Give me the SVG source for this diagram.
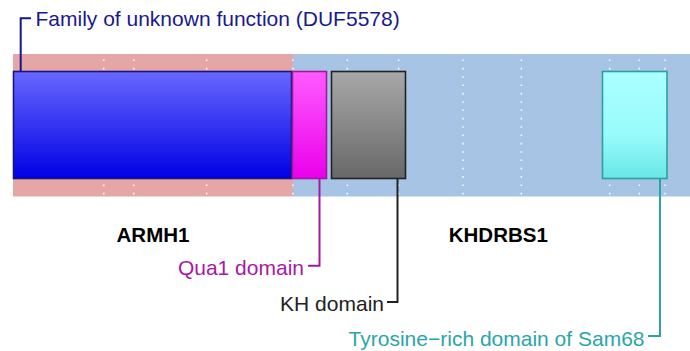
<svg xmlns="http://www.w3.org/2000/svg" width="690" height="351" viewBox="0 0 690 351">
<style>
  text { font-family: "Liberation Sans", Arial, sans-serif; font-size: 21px; }
  .bold { font-weight: bold; font-size: 20.5px; text-anchor: middle; fill: #000; }
  .grid { stroke: #ffffff; stroke-width: 1.6; stroke-dasharray: 1.6 6.73; fill: none; opacity: 0.9; }
  .dom { stroke-width: 1.6; }
  .conn { fill: none; stroke-width: 2; }
</style>
<defs>
  <linearGradient id="gBlue" x1="0" y1="0" x2="0" y2="1">
    <stop offset="0" stop-color="#6868ff"/>
    <stop offset="1" stop-color="#0000e4"/>
  </linearGradient>
  <linearGradient id="gMag" x1="0" y1="0" x2="0" y2="1">
    <stop offset="0" stop-color="#ff5cff"/>
    <stop offset="1" stop-color="#ea00ea"/>
  </linearGradient>
  <linearGradient id="gGray" x1="0" y1="0" x2="0" y2="1">
    <stop offset="0" stop-color="#a8a8a8"/>
    <stop offset="1" stop-color="#686868"/>
  </linearGradient>
  <linearGradient id="gCyan" x1="0" y1="0" x2="0" y2="1">
    <stop offset="0" stop-color="#abffff"/>
    <stop offset="0.6" stop-color="#98fbfb"/>
    <stop offset="1" stop-color="#68e6e6"/>
  </linearGradient>
</defs>

<g id="backbone">
  <rect x="13" y="54" width="280" height="142.5" fill="#e5a6a6"/>
  <rect x="293" y="54" width="397" height="142.5" fill="#a8c4e4"/>
</g>

<g id="grid">
  <line class="grid" x1="103.7" y1="59.5" x2="103.7" y2="196"/>
  <line class="grid" x1="133.7" y1="59.5" x2="133.7" y2="196"/>
  <line class="grid" x1="206.7" y1="59.5" x2="206.7" y2="196"/>
  <line class="grid" x1="293" y1="59.5" x2="293" y2="196"/>
  <line class="grid" x1="347.3" y1="59.5" x2="347.3" y2="196"/>
  <line class="grid" x1="398.7" y1="59.5" x2="398.7" y2="196"/>
  <line class="grid" x1="463" y1="59.5" x2="463" y2="196"/>
  <line class="grid" x1="521.3" y1="59.5" x2="521.3" y2="196"/>
  <line class="grid" x1="609.7" y1="59.5" x2="609.7" y2="196"/>
  <line class="grid" x1="639.3" y1="59.5" x2="639.3" y2="196"/>
  <line class="grid" x1="665" y1="59.5" x2="665" y2="196"/>
</g>

<g id="duf5578">
  <rect class="dom" x="13.5" y="71.5" width="278" height="107" fill="url(#gBlue)" stroke="#16167e"/>
</g>
<g id="qua1">
  <rect class="dom" x="292.5" y="71.5" width="34" height="107" fill="url(#gMag)" stroke="#a01aa0"/>
</g>
<g id="kh">
  <rect class="dom" x="331.5" y="71.5" width="74" height="107" fill="url(#gGray)" stroke="#222222"/>
</g>
<g id="tyr">
  <rect class="dom" x="602.5" y="71.5" width="64.5" height="107" fill="url(#gCyan)" stroke="#2aa0a0"/>
</g>

<g id="connectors">
  <path class="conn" d="M20.7,72 V18.3 H31" stroke="#15158f"/>
  <path class="conn" d="M319.5,178.5 V265.7 H308" stroke="#a21aa2"/>
  <path class="conn" d="M397.5,178.5 V302 H387" stroke="#222222"/>
  <path class="conn" d="M660,178.5 V336 H648" stroke="#2aa3a3"/>
</g>

<g id="labels">
  <text x="35.5" y="26" fill="#19198f">Family of unknown function (DUF5578)</text>
  <text x="304" y="275" text-anchor="end" fill="#a816a8">Qua1 domain</text>
  <text x="384" y="311" text-anchor="end" fill="#222222">KH domain</text>
  <text x="644.5" y="345.5" text-anchor="end" fill="#2aa6a6">Tyrosine−rich domain of Sam68</text>
  <text class="bold" x="153" y="241.5">ARMH1</text>
  <text class="bold" x="498.3" y="241.5">KHDRBS1</text>
</g>
</svg>
